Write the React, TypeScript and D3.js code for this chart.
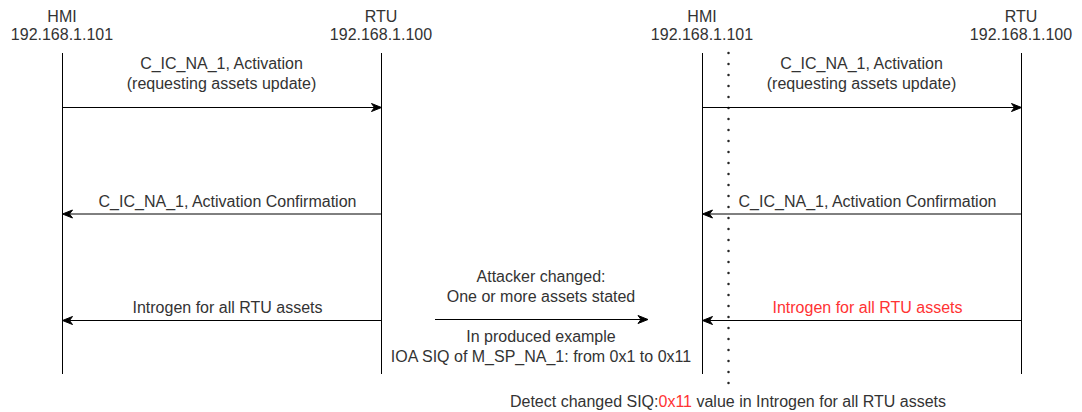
import React from "react";
import * as d3 from "d3";

const W = 1082;
const H = 412;

// Participants (two panels)
const panels = ["left", "right"];
const participants = ["HMI", "RTU"];
const addresses = ["192.168.1.101", "192.168.1.100"];

// Messages: from, to, label lines, color
const messageSteps = [1, 2, 3];
const messageLabels = [
  ["C_IC_NA_1, Activation", "(requesting assets update)"],
  ["C_IC_NA_1, Activation Confirmation"],
  ["Introgen for all RTU assets"],
];
const messageDir = ["toRTU", "toHMI", "toHMI"];
const rightHighlight = [false, false, true];

const attackLinesAbove = ["Attacker changed:", "One or more assets stated"];
const attackLinesBelow = ["In produced example", "IOA SIQ of M_SP_NA_1: from 0x1 to 0x11"];
const detectParts = [
  { t: "Detect changed SIQ:", red: false },
  { t: "0x11", red: true },
  { t: " value in Introgen for all RTU assets", red: false },
];

const TEXT = "#333333";
const RED = "#FF3333";
const FONT = "'Liberation Sans', Arial, Helvetica, sans-serif";

const panelX = d3.scaleOrdinal<string, number>().domain(panels).range([62, 702]);
const partX = d3.scaleOrdinal<string, number>().domain(participants).range([0, 319]);
const stepY = d3.scaleLinear().domain([1, 3]).range([107.5, 320.5]);

function Arrow({ x1, x2, y }: { x1: number; x2: number; y: number }) {
  const dir = x2 > x1 ? 1 : -1;
  const tip = x2;
  const head = `M${tip},${y} L${tip - dir * 10},${y - 4} L${tip - dir * 7},${y} L${tip - dir * 10},${y + 4} Z`;
  return (
    <g>
      <line x1={x1} x2={tip - dir * 7} y1={y} y2={y} stroke="#000" strokeWidth={1} />
      <path d={head} fill="#000" stroke="#000" strokeWidth={1} strokeLinejoin="miter" />
    </g>
  );
}

export default function App() {
  const fs = 16;
  return (
    <svg width={W} height={H} style={{ position: "absolute", left: 0, top: 0, fontFamily: FONT }}>
      <rect width={W} height={H} fill="#fff" />
      {panels.map((p) => {
        const base = panelX(p);
        const hx = base + partX("HMI");
        const rx = base + partX("RTU");
        return (
          <g key={p}>
            {participants.map((name, i) => {
              const x = base + partX(name);
              return (
                <g key={name}>
                  <text x={x} y={22} textAnchor="middle" fontSize={fs} fill={TEXT}>{name}</text>
                  <text x={x} y={40} textAnchor="middle" fontSize={fs} fill={TEXT}>{addresses[i]}</text>
                  <line x1={x + 0.5} x2={x + 0.5} y1={53} y2={374} stroke="#000" strokeWidth={1} />
                </g>
              );
            })}
            {messageSteps.map((s, i) => {
              const y = stepY(s);
              const toR = messageDir[i] === "toRTU";
              const x1 = toR ? hx + 0.5 : rx + 0.5;
              const x2 = toR ? rx + 0.5 : hx + 0.5;
              const lines = messageLabels[i];
              const red = p === "right" && rightHighlight[i];
              const cx = (hx + rx) / 2 + (toR ? 0 : 6);
              const lastBase = y - (toR ? 19 : 7.5);
              return (
                <g key={s}>
                  {lines.map((l, j) => (
                    <text key={j} x={cx} y={lastBase - (lines.length - 1 - j) * 20} textAnchor="middle" fontSize={fs} fill={red ? RED : TEXT}>{l}</text>
                  ))}
                  <Arrow x1={x1} x2={x2} y={y} />
                </g>
              );
            })}
          </g>
        );
      })}
      {/* attacker arrow */}
      <g>
        {attackLinesAbove.map((l, j) => (
          <text key={j} x={541} y={282 + j * 20} textAnchor="middle" fontSize={fs} fill={TEXT}>{l}</text>
        ))}
        <Arrow x1={435} x2={648} y={319.5} />
        {attackLinesBelow.map((l, j) => (
          <text key={j} x={541} y={342 + j * 20} textAnchor="middle" fontSize={fs} fill={TEXT}>{l}</text>
        ))}
      </g>
      {/* detection dotted line */}
      <line x1={728.5} x2={728.5} y1={53} y2={389} stroke="#000" strokeWidth={2.5} strokeDasharray="0 11" strokeLinecap="round" strokeOpacity={0.85} />
      <text x={728} y={407} textAnchor="middle" fontSize={fs} fill={TEXT}>
        {detectParts.map((d, i) => (
          <tspan key={i} fill={d.red ? RED : TEXT}>{d.t}</tspan>
        ))}
      </text>
    </svg>
  );
}
